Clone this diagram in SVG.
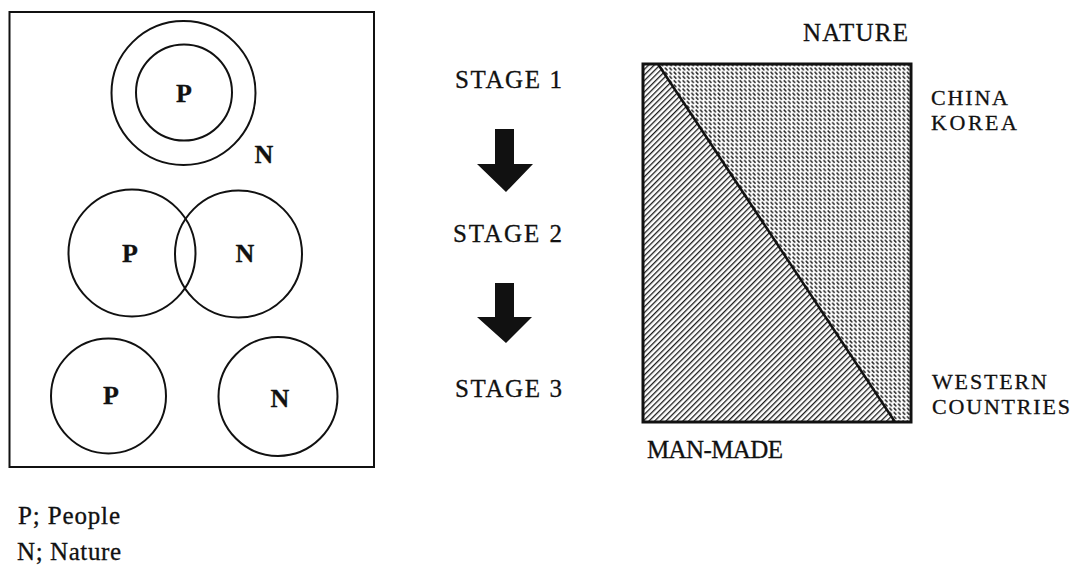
<svg xmlns="http://www.w3.org/2000/svg" width="1074" height="565" viewBox="0 0 1074 565">
  <style>
    .ln { fill: none; stroke: #111; stroke-width: 2; }
    .lbl { font-family: "Liberation Serif", "Times New Roman", serif; font-size: 25px; fill: #111; stroke: #111; stroke-width: 0.3; }
    .sm { font-size: 22px; }
    .b { font-weight: bold; font-size: 26px; }
    .mid { text-anchor: middle; }
    .arrow { fill: #111; }
  </style>
  <defs>
    <!-- diagonal hatching for the man-made share -->
    <pattern id="hatch" patternUnits="userSpaceOnUse" width="4" height="4" patternTransform="rotate(45)">
      <rect width="4" height="4" fill="#fff"/>
      <line x1="0" y1="0" x2="0" y2="4" stroke="#1a1a1a" stroke-width="2.6"/>
    </pattern>
    <!-- fine stipple for the nature share -->
    <pattern id="dots" patternUnits="userSpaceOnUse" width="4.4" height="4.2">
      <rect width="4.4" height="4.2" fill="#fff"/>
      <line x1="1" y1="0.9" x2="2.6" y2="2.7" stroke="#222" stroke-width="1.5" stroke-linecap="round"/>
    </pattern>
  </defs>
  <rect width="1074" height="565" fill="#fff"/>

  <!-- left panel: people / nature relation in three stages -->
  <g id="stage-panel">
    <rect class="ln" x="9.5" y="12" width="364.5" height="455"/>
  </g>
  <g id="stage1-circles">
    <circle class="ln" cx="183.5" cy="93" r="72"/>
    <circle class="ln" cx="184" cy="92.5" r="48"/>
    <text class="lbl b mid" x="184" y="102">P</text>
    <text class="lbl b mid" x="264" y="163">N</text>
  </g>
  <g id="stage2-circles">
    <circle class="ln" cx="132" cy="253" r="63.5"/>
    <circle class="ln" cx="238.5" cy="254" r="63.5"/>
    <text class="lbl b mid" x="130" y="262">P</text>
    <text class="lbl b mid" x="245" y="262">N</text>
  </g>
  <g id="stage3-circles">
    <circle class="ln" cx="108.5" cy="396" r="57.5"/>
    <circle class="ln" cx="278" cy="396.5" r="59.5"/>
    <text class="lbl b mid" x="111" y="404">P</text>
    <text class="lbl b mid" x="280" y="407">N</text>
  </g>
  <g id="legend">
    <text class="lbl" x="18" y="524" textLength="102" lengthAdjust="spacing">P; People</text>
    <text class="lbl" x="17" y="560" textLength="104" lengthAdjust="spacing">N; Nature</text>
  </g>

  <!-- middle column: stage labels -->
  <g id="stage-labels">
    <text class="lbl" x="455" y="88" textLength="107" lengthAdjust="spacing">STAGE  1</text>
    <text class="lbl" x="453" y="242" textLength="109" lengthAdjust="spacing">STAGE  2</text>
    <text class="lbl" x="455" y="397" textLength="107" lengthAdjust="spacing">STAGE  3</text>
  </g>

  <!-- stage transitions -->
  <g id="connectors">
    <polygon class="arrow" points="495,129 514,129 514,164 533,164 506,192 477,164 495,164"/>
    <polygon class="arrow" points="495,283 514,283 514,317 532,317 506,343 477,317 495,317"/>
  </g>

  <!-- right panel: nature vs man-made proportion -->
  <g id="ratio-chart">
    <polygon points="643,64 658,64 895,422 643,422" fill="url(#hatch)"/>
    <polygon points="658,64 911,64 911,422 895,422" fill="url(#dots)"/>
    <line x1="658" y1="64" x2="895" y2="422" stroke="#111" stroke-width="2.5"/>
    <rect x="643" y="64" width="268" height="358" fill="none" stroke="#111" stroke-width="3"/>
  </g>
  <g id="ratio-labels">
    <text class="lbl" x="803" y="41" textLength="105" lengthAdjust="spacing">NATURE</text>
    <text class="lbl sm" x="931" y="105" textLength="77" lengthAdjust="spacing">CHINA</text>
    <text class="lbl sm" x="931" y="130" textLength="86" lengthAdjust="spacing">KOREA</text>
    <text class="lbl sm" x="932" y="389" textLength="115" lengthAdjust="spacing">WESTERN</text>
    <text class="lbl sm" x="932" y="414" textLength="138" lengthAdjust="spacing">COUNTRIES</text>
    <text class="lbl" x="647" y="458" textLength="136" lengthAdjust="spacing">MAN-MADE</text>
  </g>
</svg>
